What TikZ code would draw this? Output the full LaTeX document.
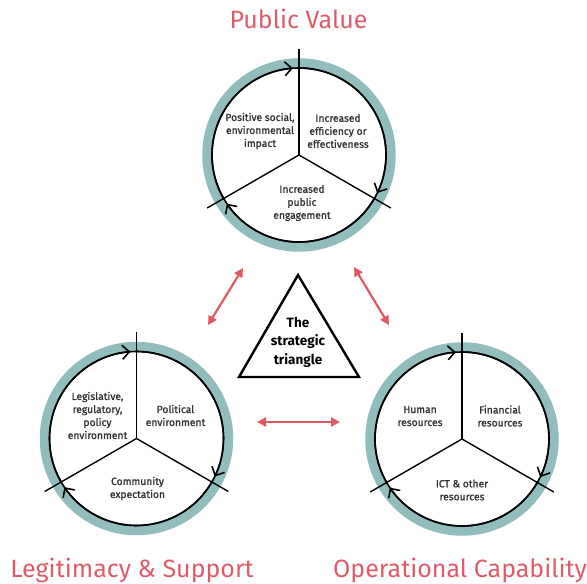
\documentclass[tikz,border=0pt]{standalone}
\usepackage{fontspec}
\setmainfont{Fira Sans}
\newfontfamily\segfont{Fira Sans}[FakeBold=1.2]
\usetikzlibrary{arrows.meta}
\definecolor{ringteal}{RGB}{145,190,188}
\definecolor{titlered}{RGB}{222,92,104}
\definecolor{arrowred}{RGB}{226,88,96}
\definecolor{txtgray}{RGB}{50,50,50}
\tikzset{
  ring/.style={circle, draw=ringteal, line width=9.5pt, minimum size=184pt, inner sep=0pt},
  innercirc/.style={draw=black, line width=1.6pt},
  spoke/.style={draw=black, line width=1.4pt},
  cyclearrow/.style={draw=black, line width=1.6pt, -{Straight Barb[length=7pt,width=14pt,line width=1.6pt]}},
  segtext/.style={font=\segfont\fontsize{10.3}{13}\selectfont, text=txtgray, align=center, inner sep=0pt},
  title/.style={font=\fontsize{25}{30}\selectfont, text=titlered, anchor=base, inner sep=0pt},
  redarrow/.style={draw=arrowred, line width=2.2pt, {Triangle[length=9pt,width=9pt]}-{Triangle[length=9pt,width=9pt]}},
  tri/.style={draw=black, line width=2.4pt, line join=miter}
}
\begin{document}
\begin{tikzpicture}[x=1pt,y=1pt]
\useasboundingbox (0,0) rectangle (587,584);
% ---------- rings ----------
\node[ring] (pv) at (299,429) {};
\node[ring] (ls) at (136.5,145.5) {};
\node[ring] (oc) at (462,145) {};
\foreach \c in {pv,ls,oc}{
  \draw[innercirc] (\c.center) circle[radius=87];
  \draw[spoke] (\c.center) -- ++(90:106);
  \draw[spoke] (\c.center) -- ++(210:106);
  \draw[spoke] (\c.center) -- ++(-30:106);
  \draw[cyclearrow] (\c.center) ++(210:87) arc[start angle=210, end angle=94, radius=87];
  \draw[cyclearrow] (\c.center) ++(90:87) arc[start angle=90, end angle=-26, radius=87];
  \draw[cyclearrow] (\c.center) ++(-30:87) arc[start angle=-30, end angle=-146, radius=87];
}
% ---------- segment texts ----------
\node[segtext] (pv1) at ([shift={(-39,24)}]pv.center) {Positive social,\\environmental\\impact};
\node[segtext] (pv2) at ([shift={(39,24)}]pv.center) {Increased\\efficiency or\\effectiveness};
\node[segtext] (pv3) at ([shift={(3,-48)}]pv.center) {Increased\\public\\engagement};
\node[segtext] (ls1) at ([shift={(-39,23)}]ls.center) {Legislative,\\regulatory,\\policy\\environment};
\node[segtext] (ls2) at ([shift={(39,23)}]ls.center) {Political\\environment};
\node[segtext] (ls3) at ([shift={(1,-50)}]ls.center) {Community\\expectation};
\node[segtext] (oc1) at ([shift={(-42,23)}]oc.center) {Human\\resources};
\node[segtext] (oc2) at ([shift={(38,23)}]oc.center) {Financial\\resources};
\node[segtext] (oc3) at ([shift={(0,-51)}]oc.center) {ICT \& other\\resources};
% ---------- titles ----------
\node[title] (tpv) at (298.5,555) {Public Value};
\node[title] (tls) at (132,6) {Legitimacy \& Support};
\node[title] (toc) at (460,6) {Operational Capability};
% ---------- strategic triangle ----------
\coordinate (ta) at (298,309);
\coordinate (tb) at (239,207);
\coordinate (tc) at (359,207);
\draw[tri] (ta) -- (tb) -- (tc) -- cycle;
\node[font=\bfseries\fontsize{13.5}{18.5}\selectfont, align=center, inner sep=0pt] (tt) at (298,242) {The\\strategic\\triangle};
% ---------- red arrows ----------
\coordinate (a1) at (243,316);
\coordinate (a2) at (208,259);
\coordinate (b1) at (354,317);
\coordinate (b2) at (389,259);
\coordinate (c1) at (257,162);
\coordinate (c2) at (340,162);
\draw[redarrow] (a1) -- (a2);
\draw[redarrow] (b1) -- (b2);
\draw[redarrow] (c1) -- (c2);
\end{tikzpicture}
\end{document}
